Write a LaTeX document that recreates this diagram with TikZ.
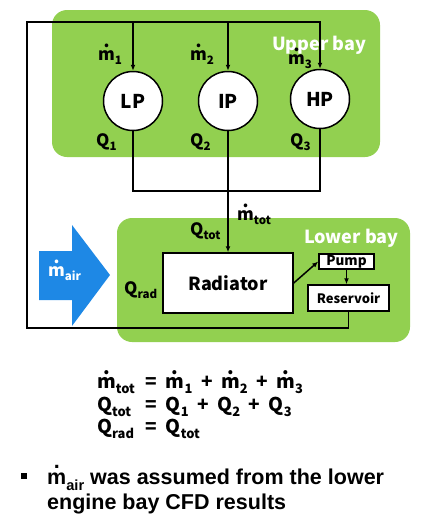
\documentclass[tikz,border=0pt]{standalone}
\usepackage{fontspec}
\setmainfont{Liberation Sans}
\newfontfamily\krfont{Noto Sans CJK KR}
\usetikzlibrary{arrows.meta}
\definecolor{baygreen}{RGB}{146,208,80}
\definecolor{airblue}{RGB}{30,136,229}
% m with a dot, and a lowered small index
\newcommand{\md}{\leavevmode\ooalign{m\cr\hidewidth\raisebox{0.72em}{.}\hidewidth\cr}}
\newcommand{\lo}[1]{\raisebox{-0.28em}{\scalebox{0.68}{#1}}}
\newcommand{\op}[1]{\hspace{0.45em}#1\hspace{0.45em}}

\begin{document}
\begin{tikzpicture}[x=1pt,y=-1pt,
    bay/.style={fill=baygreen,rounded corners=15pt},
    baylbl/.style={anchor=base west,inner sep=0pt,text=white,font=\krfont\bfseries\fontsize{18}{18}\selectfont},
    unit/.style={circle,draw,fill=white,line width=1.5pt,minimum size=59pt,inner sep=0pt,font=\krfont\bfseries\fontsize{19}{19}\selectfont},
    box/.style={draw,fill=white,line width=1.5pt,inner sep=0pt},
    lbl/.style={anchor=base west,inner sep=0pt,font=\krfont\bfseries\fontsize{17}{17}\selectfont},
    eqn/.style={anchor=base west,inner sep=0pt,font=\krfont\bfseries\fontsize{19}{19}\selectfont},
    note/.style={anchor=base west,inner sep=0pt,font=\bfseries\fontsize{21.5}{24}\selectfont},
    pipe/.style={line width=1.5pt},
    >={Latex[length=6pt,width=5pt]}]
    \useasboundingbox (0,0) rectangle (426,525);
    % engine bays
    \fill[bay] (52,10) rectangle (380,157);
    \fill[bay] (117,218) rectangle (410,342);
    \node[baylbl] (upper) at (272,50) {Upper bay};
    \node[baylbl] (lower) at (304,243) {Lower bay};
    % cooling air
    \fill[airblue] (39,251) -- (72,251) -- (72,225) -- (110,275) -- (72,326) -- (72,300) -- (39,300) -- cycle;
    \node[lbl,text=white] (mair) at (48,276) {\md\lo{air}};
    % heat sources
    \node[unit] (LP) at (133,101) {LP};
    \node[unit] (IP) at (228,101) {IP};
    \node[unit] (HP) at (320,99) {HP};
    \node[lbl] (m1) at (98,60) {\md\lo{1}};
    \node[lbl] (m2) at (190,60) {\md\lo{2}};
    \node[lbl] (m3) at (288,64) {\md\lo{3}};
    \node[lbl] (Q1) at (96,146) {Q\lo{1}};
    \node[lbl] (Q2) at (190,146) {Q\lo{2}};
    \node[lbl] (Q3) at (290,146) {Q\lo{3}};
    % cooling loop
    \node[box,minimum width=130pt,minimum height=60pt,font=\krfont\bfseries\fontsize{18}{18}\selectfont] (radiator) at (228,283) {Radiator};
    \node[box,minimum width=55pt,minimum height=15pt,font=\krfont\bfseries\fontsize{13.5}{13.5}\selectfont] (pump) at (346.5,261.5) {Pump};
    \node[box,minimum width=81pt,minimum height=26pt,font=\krfont\bfseries\fontsize{13}{13}\selectfont] (reservoir) at (348.5,298) {Reservoir};
    \node[lbl] (mtot) at (237,220) {\md\lo{tot}};
    \node[lbl] (Qtot) at (190,235) {Q\lo{tot}};
    \node[lbl] (Qrad) at (124,294) {Q\lo{rad}};
    \coordinate (tl) at (27,22);
    \coordinate (bl) at (27,328);
    \coordinate (join) at (228,191);
    \draw[pipe,->] (reservoir.south) |- (bl) -- (tl) -| (HP.north);
    \draw[pipe,->] (LP |- tl) -- (LP.north);
    \draw[pipe,->] (IP |- tl) -- (IP.north);
    \draw[pipe] (LP.south) |- (join) -| (HP.south);
    \draw[pipe,->] (IP.south) -- (radiator.north);
    \draw[pipe,->] (radiator.east) -- (pump.west);
    \draw[pipe,->] (pump.south) -- (pump.south |- reservoir.north);
    % balance
    \node[eqn] (eq1) at (97,388) {\makebox[40pt][l]{\md\lo{tot}}\op{=}\md\lo{1}\op{+}\md\lo{2}\op{+}\md\lo{3}};
    \node[eqn] (eq2) at (97,411) {\makebox[40pt][l]{Q\lo{tot}}\op{=}Q\lo{1}\op{+}Q\lo{2}\op{+}Q\lo{3}};
    \node[eqn] (eq3) at (97,433) {\makebox[40pt][l]{Q\lo{rad}}\op{=}Q\lo{tot}};
    % remark
    \node[fill,inner sep=0pt,minimum size=6pt] (bullet) at (24,476) {};
    \node[note] (note1) at (47,484) {\md\lo{air} was assumed from the lower};
    \node[note] (note2) at (47,509) {engine bay CFD results};
\end{tikzpicture}
\end{document}
